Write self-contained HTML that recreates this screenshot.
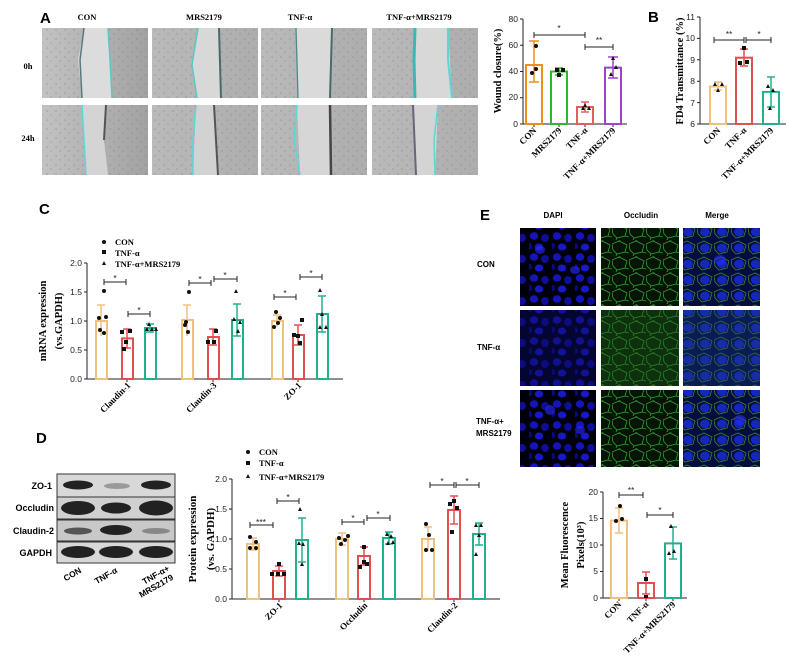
<!DOCTYPE html>
<html><head><meta charset="utf-8"><style>
html,body{margin:0;padding:0;background:#fff}
svg{display:block}
.s{font-family:"Liberation Serif",serif;font-weight:bold}
.a{font-family:"Liberation Sans",sans-serif;font-weight:bold}
.t{font-family:"Liberation Sans",sans-serif;font-size:8.5px;fill:#222}
</style></head><body>
<svg width="789" height="672" viewBox="0 0 789 672" xmlns="http://www.w3.org/2000/svg">
<defs>
<linearGradient id="gr" x1="0" x2="1"><stop offset="0" stop-color="#c2c2c2"/><stop offset="1" stop-color="#a2a2a2"/></linearGradient>
<linearGradient id="gr2" x1="0" x2="1"><stop offset="0" stop-color="#bababa"/><stop offset="1" stop-color="#adadad"/></linearGradient>
<pattern id="nz" width="9" height="9" patternUnits="userSpaceOnUse"><circle cx="2" cy="3" r="0.8" fill="#777" opacity=".5"/><circle cx="6" cy="7" r="0.7" fill="#666" opacity=".4"/></pattern>
<pattern id="dapi" width="23" height="21" patternUnits="userSpaceOnUse"><rect width="23" height="21" fill="#00000c"/><ellipse cx="5" cy="5" rx="4.2" ry="3.8" fill="#1414b8"/><ellipse cx="16" cy="7" rx="3.8" ry="4" fill="#0e0e9a"/><ellipse cx="10" cy="16" rx="4.2" ry="3.5" fill="#1818c8"/><ellipse cx="1" cy="15" rx="2" ry="3" fill="#0a0a80"/></pattern>
<pattern id="occ" width="17" height="16" patternUnits="userSpaceOnUse"><rect width="17" height="16" fill="#061406"/><path d="M0 4 L7 1 L15 5 L13 12 L5 14 L1 10 Z M7 1 L8 0 M13 12 L17 13 M5 14 L4 16" stroke="#2fa02f" stroke-width="0.8" fill="none"/></pattern>
<pattern id="mrg" width="17" height="16" patternUnits="userSpaceOnUse"><rect width="17" height="16" fill="#060c40"/><ellipse cx="8" cy="8" rx="5" ry="4.5" fill="#1626b8"/><path d="M0 4 L7 1 L15 5 L13 12 L5 14 L1 10 Z" stroke="#2a8a2a" stroke-width="0.8" fill="none"/></pattern>
</defs>

<!-- Panel A -->
<text x="40" y="23" class="a" font-size="15">A</text>
<g class="s" font-size="8.5" text-anchor="middle">
<text x="87" y="20">CON</text><text x="204" y="20">MRS2179</text><text x="300" y="20">TNF-α</text><text x="419" y="20">TNF-α+MRS2179</text>
<text x="28" y="69">0h</text><text x="28" y="141">24h</text></g>
<g>
<rect x="42" y="28" width="106" height="70" fill="url(#gr)"/><rect x="42" y="28" width="106" height="70" fill="url(#nz)"/>
<polygon points="84,28 108,28 112,98 82,98 78,60" fill="#dcdcdc"/><path d="M108 28 L110 60 L112 98" stroke="#5ac8c8" stroke-width="1.5" fill="none"/><path d="M84 28 L80 60 L82 98" stroke="#5a7a7a" stroke-width="1.5" fill="none"/>
<rect x="152" y="28" width="106" height="70" fill="url(#gr2)"/><rect x="152" y="28" width="106" height="70" fill="url(#nz)"/>
<polygon points="198,28 219,28 222,98 197,98 192,65" fill="#d8d8d8"/><path d="M198 28 L192 65 L197 98" stroke="#5ac8c8" stroke-width="1.5" fill="none"/><path d="M219 28 L221 98" stroke="#4a6a6a" stroke-width="2" fill="none"/>
<rect x="261" y="28" width="106" height="70" fill="url(#gr2)"/><rect x="261" y="28" width="106" height="70" fill="url(#nz)"/>
<polygon points="296,28 332,28 330,98 298,98" fill="#dadada"/><path d="M296 28 L298 98" stroke="#4a8a8a" stroke-width="1.3" fill="none"/><path d="M332 28 L330 98" stroke="#4a6a6a" stroke-width="2" fill="none"/>
<rect x="372" y="28" width="106" height="70" fill="url(#gr2)"/><rect x="372" y="28" width="106" height="70" fill="url(#nz)"/>
<polygon points="415,28 448,28 452,98 415,98" fill="#d8d8d8"/><path d="M415 28 L414 60 L415 98" stroke="#3ab8b8" stroke-width="3" fill="none"/><path d="M448 28 L448 60 L452 98" stroke="#5ad8d8" stroke-width="2" fill="none"/>
<rect x="42" y="105" width="106" height="70" fill="url(#gr)"/><rect x="42" y="105" width="106" height="70" fill="url(#nz)"/>
<polygon points="82,105 106,105 104,140 108,175 86,175 84,140" fill="#d4d4d4"/><path d="M82 105 L84 140 L86 175" stroke="#5ad8d8" stroke-width="1.5" fill="none"/><path d="M106 105 L104 140" stroke="#555" stroke-width="2" fill="none"/>
<rect x="152" y="105" width="106" height="70" fill="url(#gr2)"/><rect x="152" y="105" width="106" height="70" fill="url(#nz)"/>
<polygon points="196,105 214,105 218,175 193,175" fill="#d2d2d2"/><path d="M196 105 L193 140 L193 175" stroke="#5ad8d8" stroke-width="1.5" fill="none"/><path d="M214 105 L218 175" stroke="#555" stroke-width="2" fill="none"/>
<rect x="261" y="105" width="106" height="70" fill="url(#gr2)"/><rect x="261" y="105" width="106" height="70" fill="url(#nz)"/>
<polygon points="297,105 330,105 331,175 300,175" fill="#d6d6d6"/><path d="M297 105 L294 140 L300 175" stroke="#5ad8d8" stroke-width="1.5" fill="none"/><path d="M330 105 L331 175" stroke="#444" stroke-width="2.5" fill="none"/>
<rect x="372" y="105" width="106" height="70" fill="url(#gr2)"/><rect x="372" y="105" width="106" height="70" fill="url(#nz)"/>
<polygon points="413,105 438,105 435,175 416,175" fill="#d4d4d4"/><path d="M413 105 L416 175" stroke="#667" stroke-width="2" fill="none"/><path d="M438 105 L434 140 L435 175" stroke="#5ad8d8" stroke-width="1.5" fill="none"/>
</g>

<!-- Wound closure chart -->
<g stroke="#222" stroke-width="1" fill="none">
<path d="M523 19 V124 H627"/><path d="M520 19H523M520 45.25H523M520 71.5H523M520 97.75H523M520 124H523"/>
<path d="M534 124v3M559 124v3M585 124v3M613 124v3"/>
</g>
<g class="t" text-anchor="end"><text x="518" y="22">80</text><text x="518" y="48">60</text><text x="518" y="74">40</text><text x="518" y="100">20</text><text x="518" y="127">0</text></g>
<g fill="none" stroke-width="2">
<rect x="526" y="65" width="16" height="59" stroke="#e8901a"/><path d="M534 65V41M534 65V82M529 41h10M529 82h10" stroke="#e8901a" stroke-width="1.5"/>
<rect x="551" y="71.5" width="16" height="52.5" stroke="#2fb52f"/><path d="M559 71.5V68M559 71.5V75M555 68h8M555 75h8" stroke="#2fb52f" stroke-width="1.5"/>
<rect x="577" y="107" width="16" height="17" stroke="#e06060"/><path d="M585 107V102M585 107V112M581 102h8M581 112h8" stroke="#e06060" stroke-width="1.5"/>
<rect x="605" y="67.6" width="16" height="56.4" stroke="#a040d0"/><path d="M613 67.6V57M613 67.6V78M608 57h10M608 78h10" stroke="#a040d0" stroke-width="1.5"/>
</g>
<g fill="#111"><circle cx="536" cy="46" r="2"/><circle cx="532" cy="73" r="2"/><circle cx="536" cy="69" r="2"/><rect x="555" y="68" width="4" height="4"/><rect x="561" y="68" width="4" height="4"/><rect x="557" y="73" width="4" height="4"/><path d="M583 107l2-4 2 4zM587 110l2-4 2 4zM581 110l2-4 2 4z"/><path d="M611 60l2-4 2 4zM609 76l2-4 2 4zM614 69l2-4 2 4z"/></g>
<g stroke="#222" stroke-width="1"><path d="M534 35H585M534 32v6M585 32v6"/><path d="M585 47H613M585 44v6M613 44v6"/></g>
<g class="t" text-anchor="middle" font-size="9"><text x="559" y="31">*</text><text x="599" y="43">**</text></g>
<text transform="translate(501,71) rotate(-90)" class="s" font-size="10.5" text-anchor="middle">Wound closure(%)</text>
<g class="s" font-size="9" text-anchor="end">
<text transform="translate(537,131) rotate(-45)">CON</text><text transform="translate(562,131) rotate(-45)">MRS2179</text><text transform="translate(588,131) rotate(-45)">TNF-α</text><text transform="translate(616,131) rotate(-45)">TNF-α+MRS2179</text></g>

<!-- Panel B -->
<text x="648" y="22" class="a" font-size="15">B</text>
<g stroke="#222" stroke-width="1" fill="none"><path d="M700 17V124H786"/><path d="M697 17H700M697 38.4H700M697 59.8H700M697 81.2H700M697 102.6H700M697 124H700"/></g>
<g class="t" text-anchor="end"><text x="695" y="20">11</text><text x="695" y="41">10</text><text x="695" y="63">9</text><text x="695" y="84">8</text><text x="695" y="106">7</text><text x="695" y="127">6</text></g>
<g fill="none" stroke-width="2">
<rect x="710" y="86.5" width="16" height="37.5" stroke="#f0c080"/><path d="M718 86.5V82M718 86.5V90M714 82h8M714 90h8" stroke="#f0c080" stroke-width="1.5"/>
<rect x="736" y="57.7" width="16" height="66.3" stroke="#e05050"/><path d="M744 57.7V49M744 57.7V66M740 49h8M740 66h8" stroke="#e05050" stroke-width="1.5"/>
<rect x="763" y="91.9" width="16" height="32.1" stroke="#20b090"/><path d="M771 91.9V77M771 91.9V107M767 77h8M767 107h8" stroke="#20b090" stroke-width="1.5"/>
</g>
<g fill="#111"><path d="M713 86l2-4 2 4zM720 86l2-4 2 4zM716 92l2-4 2 4z"/><rect x="742" y="46" width="4" height="4"/><rect x="738" y="61" width="4" height="4"/><rect x="745" y="60" width="4" height="4"/><path d="M766 88l2-4 2 4zM771 92l2-4 2 4zM768 110l2-4 2 4z"/></g>
<g stroke="#222" stroke-width="1"><path d="M714 40H744M714 37v6M744 37v6M746 40H771M746 37v6M771 37v6"/></g>
<g class="t" text-anchor="middle" font-size="9"><text x="729" y="37">**</text><text x="759" y="37">*</text></g>
<text transform="translate(683,71) rotate(-90)" class="s" font-size="10.5" text-anchor="middle">FD4 Transmittance (%)</text>
<g class="s" font-size="9" text-anchor="end">
<text transform="translate(721,131) rotate(-45)">CON</text><text transform="translate(747,131) rotate(-45)">TNF-α</text><text transform="translate(774,131) rotate(-45)">TNF-α+MRS2179</text></g>

<!-- Panel C -->
<text x="39" y="214" class="a" font-size="15">C</text>
<g class="s" font-size="8.5"><text x="115" y="245">CON</text><text x="115" y="256">TNF-α</text><text x="115" y="267">TNF-α+MRS2179</text></g>
<g fill="#111"><circle cx="104" cy="242" r="2"/><rect x="102" y="250" width="4" height="4"/><path d="M102 265l2-4 2 4z"/></g>
<g stroke="#222" stroke-width="1" fill="none"><path d="M87 263V379H343"/><path d="M84 263H87M84 292H87M84 321H87M84 350H87M84 379H87M127 379v3M213 379v3M298 379v3"/></g>
<g class="t" text-anchor="end"><text x="82" y="266">2.0</text><text x="82" y="295">1.5</text><text x="82" y="324">1.0</text><text x="82" y="353">0.5</text><text x="82" y="382">0.0</text></g>
<g fill="none" stroke-width="2">
<rect x="96" y="321" width="11" height="58" stroke="#f0c080"/><rect x="122" y="338.4" width="11" height="40.6" stroke="#e05050"/><rect x="145" y="328" width="11" height="51" stroke="#20b090"/>
<rect x="182" y="320" width="11" height="59" stroke="#f0c080"/><rect x="208" y="337" width="11" height="42" stroke="#e05050"/><rect x="232" y="320" width="11" height="59" stroke="#20b090"/>
<rect x="272" y="321" width="11" height="58" stroke="#f0c080"/><rect x="293" y="335" width="11" height="44" stroke="#e05050"/><rect x="317" y="314" width="11" height="65" stroke="#20b090"/>
</g>
<g stroke-width="1.5" fill="none">
<path d="M101 305V336M97 305h8" stroke="#f0c080"/><path d="M127 329V348M123 329h8M123 348h8" stroke="#e05050"/><path d="M150 324V332M146 324h8M146 332h8" stroke="#20b090"/>
<path d="M187 305V336M183 305h8" stroke="#f0c080"/><path d="M213 329V345M209 329h8M209 345h8" stroke="#e05050"/><path d="M237 304V336M233 304h8M233 336h8" stroke="#20b090"/>
<path d="M277 315V327M273 315h8" stroke="#f0c080"/><path d="M298 325V345M294 325h8M294 345h8" stroke="#e05050"/><path d="M322 296V332M318 296h8M318 332h8" stroke="#20b090"/>
</g>
<g fill="#111">
<circle cx="104" cy="291" r="2"/><circle cx="99" cy="318" r="2"/><circle cx="106" cy="317" r="2"/><circle cx="100" cy="330" r="2"/><circle cx="104" cy="333" r="2"/>
<rect x="120" y="330" width="4" height="4"/><rect x="128" y="329" width="4" height="4"/><rect x="124" y="340" width="4" height="4"/><rect x="122" y="347" width="4" height="4"/>
<path d="M145 331l2-4 2 4zM150 331l2-4 2 4zM154 331l2-4 2 4zM147 326l2-4 2 4z"/>
<circle cx="189" cy="292" r="2"/><circle cx="186" cy="322" r="2"/><circle cx="188" cy="332" r="2"/><circle cx="185" cy="325" r="2"/>
<rect x="214" y="329" width="4" height="4"/><rect x="206" y="340" width="4" height="4"/><rect x="212" y="340" width="4" height="4"/>
<path d="M234 293l2-4 2 4zM232 321l2-4 2 4zM236 333l2-4 2 4zM238 324l2-4 2 4z"/>
<circle cx="276" cy="312" r="2"/><circle cx="280" cy="318" r="2"/><circle cx="274" cy="327" r="2"/><circle cx="278" cy="323" r="2"/>
<rect x="300" y="318" width="4" height="4"/><rect x="292" y="333" width="4" height="4"/><rect x="298" y="341" width="4" height="4"/><rect x="296" y="334" width="4" height="4"/>
<path d="M318 292l2-4 2 4zM320 316l2-4 2 4zM318 329l2-4 2 4zM324 329l2-4 2 4z"/>
</g>
<g stroke="#222" stroke-width="1"><path d="M104 282H126M104 279v6M126 279v6M128 314H150M128 311v6M150 311v6M189 283H211M189 280v6M211 280v6M214 279H237M214 276v6M237 276v6M274 297H296M274 294v6M296 294v6M300 277H322M300 274v6M322 274v6"/></g>
<g class="t" text-anchor="middle" font-size="9"><text x="115" y="281">*</text><text x="139" y="313">*</text><text x="200" y="282">*</text><text x="225" y="278">*</text><text x="285" y="296">*</text><text x="311" y="276">*</text></g>
<text transform="translate(46,321) rotate(-90)" class="s" font-size="10.5" text-anchor="middle">mRNA expression</text>
<text transform="translate(62,321) rotate(-90)" class="s" font-size="10.5" text-anchor="middle">(vs.GAPDH)</text>
<g class="s" font-size="9" text-anchor="end">
<text transform="translate(131,386) rotate(-45)">Claudin-1</text><text transform="translate(217,386) rotate(-45)">Claudin-3</text><text transform="translate(302,386) rotate(-45)">ZO-1</text></g>

<!-- Panel D -->
<text x="36" y="443" class="a" font-size="15">D</text>
<g>
<rect x="57" y="474" width="118" height="23" fill="#d8d8d8" stroke="#333"/><rect x="57" y="497" width="118" height="22" fill="#d0d0d0" stroke="#333"/><rect x="57" y="520" width="118" height="21" fill="#c8c8c8" stroke="#333"/><rect x="57" y="542" width="118" height="21" fill="#d8d8d8" stroke="#333"/>
<g fill="#222"><ellipse cx="78" cy="485" rx="15" ry="4.5"/><ellipse cx="117" cy="486" rx="13" ry="3" fill="#9a9a9a"/><ellipse cx="156" cy="485" rx="15" ry="4.5"/>
<ellipse cx="78" cy="508" rx="17" ry="7"/><ellipse cx="116" cy="508" rx="15" ry="5.5"/><ellipse cx="156" cy="508" rx="17" ry="7.5"/>
<ellipse cx="78" cy="531" rx="14" ry="3.5" fill="#555"/><ellipse cx="116" cy="530" rx="16" ry="5"/><ellipse cx="156" cy="531" rx="14" ry="3" fill="#888"/>
<ellipse cx="78" cy="552" rx="17" ry="6"/><ellipse cx="116" cy="552" rx="17" ry="6"/><ellipse cx="156" cy="552" rx="17" ry="6"/></g>
</g>
<g class="a" font-size="9" text-anchor="end"><text x="52" y="489">ZO-1</text><text x="54" y="511">Occludin</text><text x="54" y="534">Claudin-2</text><text x="52" y="556">GAPDH</text></g>
<g class="a" font-size="8.5" text-anchor="end">
<text transform="translate(82,572) rotate(-30)">CON</text><text transform="translate(118,572) rotate(-30)">TNF-α</text><text transform="translate(170,570) rotate(-30)">TNF-α+</text><text transform="translate(174,579) rotate(-30)">MRS2179</text></g>
<g class="s" font-size="8.5"><text x="259" y="455">CON</text><text x="259" y="466">TNF-α</text><text x="259" y="480">TNF-α+MRS2179</text></g>
<g fill="#111"><circle cx="248" cy="452" r="2"/><rect x="246" y="461" width="4" height="4"/><path d="M246 478l2-4 2 4z"/></g>
<g stroke="#222" stroke-width="1" fill="none"><path d="M232 479V599H500"/><path d="M229 479H232M229 509H232M229 539H232M229 569H232M229 599H232M279 599v3M364 599v3M454 599v3"/></g>
<g class="t" text-anchor="end"><text x="227" y="482">2.0</text><text x="227" y="512">1.5</text><text x="227" y="542">1.0</text><text x="227" y="572">0.5</text><text x="227" y="602">0.0</text></g>
<g fill="none" stroke-width="2">
<rect x="247" y="544" width="12" height="55" stroke="#f0c080"/><rect x="273" y="571" width="12" height="28" stroke="#e05050"/><rect x="296" y="540" width="12" height="59" stroke="#20b090"/>
<rect x="336" y="539" width="12" height="60" stroke="#f0c080"/><rect x="358" y="556" width="12" height="43" stroke="#e05050"/><rect x="383" y="538" width="12" height="61" stroke="#20b090"/>
<rect x="422" y="539" width="12" height="60" stroke="#f0c080"/><rect x="448" y="510" width="12" height="89" stroke="#e05050"/><rect x="473" y="534" width="12" height="65" stroke="#20b090"/>
</g>
<g stroke-width="1.5" fill="none">
<path d="M253 538V550M249 538h8M249 550h8" stroke="#f0c080"/><path d="M279 566V576M275 566h8M275 576h8" stroke="#e05050"/><path d="M302 518V562M298 518h8M298 562h8" stroke="#20b090"/>
<path d="M342 533V545M338 533h8M338 545h8" stroke="#f0c080"/><path d="M364 547V565M360 547h8M360 565h8" stroke="#e05050"/><path d="M389 532V544M385 532h8M385 544h8" stroke="#20b090"/>
<path d="M428 527V551M424 527h8" stroke="#f0c080"/><path d="M454 496V524M450 496h8M450 524h8" stroke="#e05050"/><path d="M479 523V545M475 523h8M475 545h8" stroke="#20b090"/>
</g>
<g fill="#111">
<circle cx="250" cy="537" r="2"/><circle cx="256" cy="542" r="2"/><circle cx="250" cy="548" r="2"/><circle cx="256" cy="548" r="2"/>
<rect x="277" y="562" width="4" height="4"/><rect x="270" y="572" width="4" height="4"/><rect x="276" y="572" width="4" height="4"/><rect x="282" y="572" width="4" height="4"/>
<path d="M298 511l2-4 2 4zM297 545l2-4 2 4zM301 546l2-4 2 4zM300 566l2-4 2 4z"/>
<circle cx="339" cy="538" r="2"/><circle cx="345" cy="540" r="2"/><circle cx="348" cy="536" r="2"/><circle cx="341" cy="544" r="2"/>
<rect x="362" y="545" width="4" height="4"/><rect x="362" y="560" width="4" height="4"/><rect x="358" y="565" width="4" height="4"/><rect x="365" y="562" width="4" height="4"/>
<path d="M385 536l2-4 2 4zM389 538l2-4 2 4zM386 545l2-4 2 4zM391 544l2-4 2 4z"/>
<circle cx="426" cy="524" r="2"/><circle cx="426" cy="550" r="2"/><circle cx="432" cy="550" r="2"/><circle cx="429" cy="535" r="2"/>
<rect x="452" y="499" width="4" height="4"/><rect x="448" y="502" width="4" height="4"/><rect x="455" y="506" width="4" height="4"/><rect x="450" y="530" width="4" height="4"/>
<path d="M474 527l2-4 2 4zM479 527l2-4 2 4zM477 537l2-4 2 4zM474 556l2-4 2 4z"/>
</g>
<g stroke="#222" stroke-width="1"><path d="M250 525H273M250 522v6M273 522v6M277 501H299M277 498v6M299 498v6M342 522H364M342 519v6M364 519v6M367 518H390M367 515v6M390 515v6M430 485H454M430 482v6M454 482v6M456 485H479M456 482v6M479 482v6"/></g>
<g class="t" text-anchor="middle" font-size="9"><text x="261" y="525">***</text><text x="288" y="500">*</text><text x="353" y="521">*</text><text x="378" y="517">*</text><text x="442" y="484">*</text><text x="467" y="484">*</text></g>
<text transform="translate(196,539) rotate(-90)" class="s" font-size="11" text-anchor="middle">Protein expression</text>
<text transform="translate(214,539) rotate(-90)" class="s" font-size="11" text-anchor="middle">(vs. GAPDH)</text>
<g class="s" font-size="9" text-anchor="end">
<text transform="translate(283,606) rotate(-45)">ZO-1</text><text transform="translate(368,606) rotate(-45)">Occludin</text><text transform="translate(458,606) rotate(-45)">Claudin-2</text></g>

<!-- Panel E -->
<text x="480" y="220" class="a" font-size="15">E</text>
<g class="a" font-size="8" text-anchor="middle"><text x="553" y="218">DAPI</text><text x="641" y="218">Occludin</text><text x="717" y="218">Merge</text></g>
<g class="a" font-size="8"><text x="477" y="267">CON</text><text x="477" y="350">TNF-α</text><text x="476" y="424">TNF-α+</text><text x="476" y="436">MRS2179</text></g>
<rect x="520" y="228" width="76" height="78" fill="url(#dapi)"/><rect x="601" y="228" width="78" height="78" fill="url(#occ)"/><rect x="683" y="228" width="77" height="78" fill="url(#mrg)"/>
<rect x="520" y="310" width="76" height="76" fill="url(#dapi)"/><rect x="520" y="310" width="76" height="76" fill="#0a0a60" opacity=".45"/>
<rect x="601" y="310" width="78" height="76" fill="url(#occ)"/><rect x="601" y="310" width="78" height="76" fill="#1e5a1e" opacity=".4"/>
<rect x="683" y="310" width="77" height="76" fill="url(#mrg)"/><rect x="683" y="310" width="77" height="76" fill="#1a3a80" opacity=".35"/>
<rect x="520" y="390" width="76" height="77" fill="url(#dapi)"/><rect x="601" y="390" width="78" height="77" fill="url(#occ)"/><rect x="683" y="390" width="77" height="77" fill="url(#mrg)"/>
<g fill="#2a2aff" opacity=".6"><ellipse cx="540" cy="250" rx="5" ry="4"/><ellipse cx="575" cy="270" rx="5" ry="4"/><ellipse cx="550" cy="410" rx="5" ry="5"/><ellipse cx="580" cy="430" rx="5" ry="4"/><ellipse cx="720" cy="260" rx="6" ry="5"/><ellipse cx="740" cy="420" rx="6" ry="5"/></g>

<!-- Mean fluorescence chart -->
<g stroke="#222" stroke-width="1" fill="none"><path d="M603 492V598H687"/><path d="M600 492H603M600 518.5H603M600 545H603M600 571.5H603M600 598H603M619 598v3M646 598v3M673 598v3"/></g>
<g class="t" text-anchor="end"><text x="598" y="495">20</text><text x="598" y="521">15</text><text x="598" y="548">10</text><text x="598" y="574">5</text><text x="598" y="601">0</text></g>
<g fill="none" stroke-width="2">
<rect x="611" y="520.6" width="16" height="77.4" stroke="#f0c080"/><rect x="638" y="583" width="16" height="15" stroke="#e05050"/><rect x="665" y="543.4" width="16" height="54.6" stroke="#20b090"/>
</g>
<g stroke-width="1.5" fill="none">
<path d="M619 508V533M615 508h8M615 533h8" stroke="#f0c080"/><path d="M646 572V594M642 572h8M642 594h8" stroke="#e05050"/><path d="M673 527V559M669 527h8M669 559h8" stroke="#20b090"/>
</g>
<g fill="#111"><circle cx="620" cy="506" r="2"/><circle cx="616" cy="521" r="2"/><circle cx="622" cy="519" r="2"/><rect x="644" y="577" width="4" height="4"/><rect x="644" y="595" width="4" height="3"/><path d="M669 528l2-4 2 4zM667 555l2-4 2 4zM672 553l2-4 2 4z"/></g>
<g stroke="#222" stroke-width="1"><path d="M619 495H643M619 492v6M643 492v6M647 515H673M647 512v6M673 512v6"/></g>
<g class="t" text-anchor="middle" font-size="9"><text x="631" y="493">**</text><text x="660" y="513">*</text></g>
<text transform="translate(568,545) rotate(-90)" class="s" font-size="10.5" text-anchor="middle">Mean Fluorescence</text>
<text transform="translate(584,545) rotate(-90)" class="s" font-size="10.5" text-anchor="middle">Pixels(10³)</text>
<g class="s" font-size="9" text-anchor="end">
<text transform="translate(622,605) rotate(-45)">CON</text><text transform="translate(649,605) rotate(-45)">TNF-α</text><text transform="translate(676,605) rotate(-45)">TNF-α+MRS2179</text></g>
</svg>
</body></html>
